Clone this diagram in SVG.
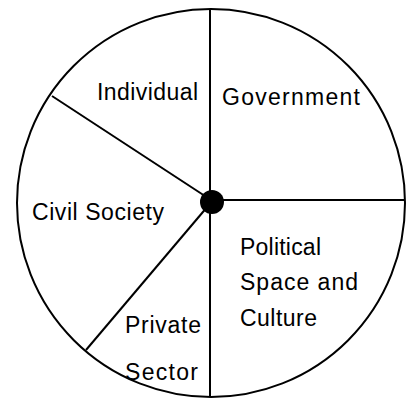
<svg xmlns="http://www.w3.org/2000/svg" width="410" height="398" viewBox="0 0 410 398">
<style>
.ln{stroke:#000;stroke-width:2;fill:none}
.t{font-family:"Liberation Sans",Arial,sans-serif;font-size:23px;fill:#000}
</style>
<rect width="410" height="398" fill="#fff"/>
<g id="circle"><circle class="ln" cx="211" cy="203" r="194"/></g>
<g id="connectors">
<line class="ln" x1="210" y1="9" x2="210" y2="397"/>
<line class="ln" x1="212" y1="200" x2="405" y2="200"/>
<line class="ln" x1="52" y1="96" x2="208" y2="198"/>
<line class="ln" x1="86" y1="350" x2="208" y2="206"/>
</g>
<g id="hub"><circle cx="212" cy="202" r="12" fill="#000"/></g>
<g id="individual"><text class="t" x="97" y="100" textLength="101" lengthAdjust="spacing">Individual</text></g>
<g id="government"><text class="t" x="222" y="105" textLength="138" lengthAdjust="spacing">Government</text></g>
<g id="civil-society"><text class="t" x="32" y="220" textLength="132" lengthAdjust="spacing">Civil Society</text></g>
<g id="political-space"><text class="t" x="240" y="255" textLength="81" lengthAdjust="spacing">Political</text><text class="t" x="240" y="290" textLength="118" lengthAdjust="spacing">Space and</text><text class="t" x="240" y="326" textLength="77" lengthAdjust="spacing">Culture</text></g>
<g id="private-sector"><text class="t" x="125" y="333" textLength="76" lengthAdjust="spacing">Private</text><text class="t" x="125" y="380" textLength="73" lengthAdjust="spacing">Sector</text></g>
</svg>
